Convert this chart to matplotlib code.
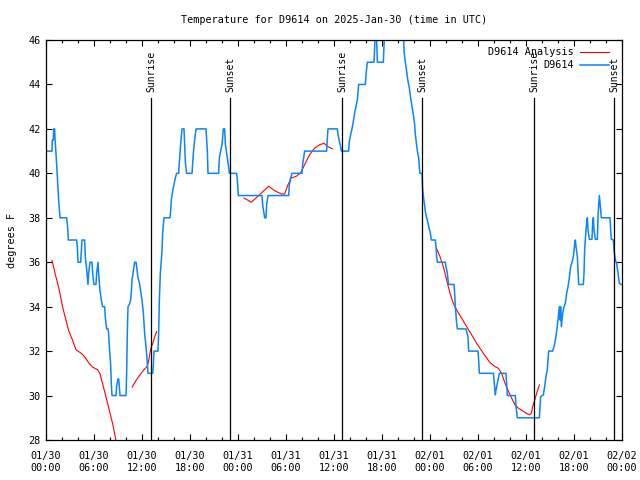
import pandas as pd
import matplotlib
matplotlib.use("Agg")
import matplotlib.pyplot as plt
import matplotlib.dates as mdates

START = pd.Timestamp("2025-01-30 00:00")
END = pd.Timestamp("2025-02-02 00:00")

# station D9614 observations: hours since START, degrees F
obs_hours = [
    0.21, 0.75, 0.79, 0.92, 0.96, 1.08, 1.12, 1.25, 1.38, 1.5, 1.58, 1.75, 2.58, 2.67, 2.75, 2.79,
    3.83, 3.92, 4.0, 4.33, 4.42, 4.5, 4.83, 4.92, 5.08, 5.25, 5.33, 5.5, 5.75, 5.83, 6.0, 6.25,
    6.33, 6.5, 6.58, 6.75, 6.92, 7.08, 7.33, 7.42, 7.58, 7.75, 7.83, 7.92, 8.08, 8.17, 8.25, 8.75,
    8.83, 9.0, 9.08, 9.17, 9.25, 10.0, 10.08, 10.17, 10.25, 10.42, 10.58, 10.67, 10.75, 10.92,
    11.08, 11.25, 11.33, 11.5, 11.67, 11.83, 12.0, 12.17, 12.33, 12.5, 12.62, 12.75, 13.33, 13.42,
    13.5, 14.0, 14.08, 14.17, 14.29, 14.5, 14.58, 14.75, 15.5, 15.58, 15.67, 15.83, 16.0, 16.17,
    16.33, 16.58, 16.67, 16.83, 17.0, 17.25, 17.33, 17.42, 17.58, 18.25, 18.42, 18.58, 18.75,
    20.0, 20.17, 20.25, 21.58, 21.67, 21.83, 22.0, 22.17, 22.33, 22.42, 22.58, 22.75, 22.92,
    23.83, 23.92, 24.05, 27.0, 27.08, 27.33, 27.5, 27.58, 27.75, 30.33, 30.42, 30.58, 30.75,
    32.0, 32.08, 32.25, 32.33, 35.08, 35.17, 35.25, 36.42, 36.5, 36.67, 36.83, 36.92, 37.83,
    37.92, 38.08, 38.25, 38.42, 38.58, 38.75, 38.92, 39.08, 39.92, 40.0, 40.17, 41.0, 41.08,
    41.17, 41.29, 41.42, 42.17, 42.33, 44.67, 44.75, 44.92, 45.08, 45.25, 45.42, 45.58, 45.75,
    45.92, 46.08, 46.17, 46.33, 46.42, 46.58, 46.67, 46.75, 47.0, 47.08, 47.25, 47.42, 47.58,
    47.75, 47.92, 48.0, 48.17, 48.67, 48.75, 48.83, 48.92, 49.92, 50.0, 50.17, 50.25, 50.33,
    51.0, 51.08, 51.17, 51.33, 51.42, 52.5, 52.75, 52.83, 54.0, 54.08, 54.17, 55.92, 56.0,
    56.17, 56.25, 56.42, 56.58, 56.67, 57.5, 57.58, 57.67, 58.67, 58.75, 58.92, 61.67, 61.75,
    61.83, 62.17, 62.33, 62.5, 62.67, 62.83, 63.33, 63.5, 63.67, 63.83, 64.0, 64.08, 64.17,
    64.25, 64.33, 64.42, 64.58, 64.75, 64.92, 65.08, 65.25, 65.42, 65.58, 65.75, 65.92, 66.08,
    66.17, 66.25, 66.42, 66.5, 66.58, 67.17, 67.25, 67.33, 67.5, 67.58, 67.67, 67.75, 67.92,
    68.25, 68.33, 68.42, 68.5, 68.67, 68.92, 69.0, 69.08, 69.17, 69.25, 69.33, 69.42, 70.5,
    70.58, 70.67, 70.92, 71.0, 71.17, 71.33, 71.5, 71.67, 71.9,
]
obs_temp = [
    41.0, 41.0, 41.5, 41.5, 42.0, 42.0, 41.6, 40.9, 40.1, 39.4, 38.8, 38.0, 38.0, 37.7, 37.35, 37.0,
    37.0, 36.7, 36.0, 36.0, 36.5, 37.0, 37.0, 36.2, 35.7, 35.0, 35.5, 36.0, 36.0, 35.5, 35.0, 35.0,
    35.5, 36.0, 35.5, 34.7, 34.3, 34.0, 34.0, 33.5, 33.0, 33.0, 32.8, 32.2, 31.4, 30.5, 30.0, 30.0,
    30.4, 30.75, 30.75, 30.4, 30.0, 30.0, 31.0, 32.9, 34.0, 34.1, 34.3, 34.7, 35.2, 35.6,
    36.0, 36.0, 35.8, 35.3, 35.1, 34.7, 34.3, 33.7, 32.8, 32.2, 31.7, 31.0, 31.0, 31.4,
    32.0, 32.0, 32.8, 34.3, 35.5, 36.5, 37.3, 38.0, 38.0, 38.3, 38.8, 39.2, 39.5, 39.8,
    40.0, 40.0, 40.5, 41.3, 42.0, 42.0, 41.3, 40.5, 40.0, 40.0, 40.9, 41.5, 42.0,
    42.0, 41.0, 40.0, 40.0, 40.7, 41.0, 41.3, 42.0, 42.0, 41.3, 40.9, 40.5, 40.0,
    40.0, 39.7, 39.0, 39.0, 38.6, 38.0, 38.0, 38.6, 39.0, 39.0, 39.5, 39.8, 40.0,
    40.0, 40.4, 40.8, 41.0, 41.0, 41.6, 42.0, 42.0, 41.74, 41.44, 41.2, 41.0, 41.0,
    41.44, 41.74, 42.0, 42.34, 42.72, 43.0, 43.32, 44.0, 44.0, 44.44, 45.0, 45.0, 45.64,
    46.5, 46.5, 45.0, 45.0, 46.5, 46.5, 45.49, 45.0, 44.59, 44.14, 43.84, 43.39, 43.0,
    42.64, 42.19, 41.74, 41.29, 41.0, 40.69, 40.24, 40.0, 40.0, 39.27, 38.74, 38.29, 38.0,
    37.77, 37.47, 37.4, 37.0, 37.0, 36.7, 36.25, 36.0, 36.0, 35.8, 35.5, 35.2, 35.0,
    35.0, 34.6, 34.0, 33.25, 33.0, 33.0, 32.65, 32.0, 32.0, 31.6, 31.0, 31.0, 30.7,
    30.03, 30.25, 30.55, 30.85, 31.0, 31.0, 30.55, 30.0, 30.0, 29.5, 29.0, 29.0, 29.5,
    29.95, 30.03, 30.4, 30.85, 31.2, 32.0, 32.0, 32.2, 32.5, 32.9, 33.4, 33.7, 34.0,
    33.4, 34.0, 33.1, 33.7, 34.0, 34.15, 34.6, 34.9, 35.3, 35.8, 36.0, 36.25, 36.8,
    37.0, 36.7, 36.25, 35.65, 35.0, 35.0, 35.5, 36.55, 37.45, 37.75, 38.0, 37.45, 37.03,
    37.03, 37.75, 38.0, 37.45, 37.03, 37.03, 38.05, 38.57, 39.0, 38.7, 38.35, 38.0, 38.0,
    37.45, 37.03, 37.0, 36.55, 36.1, 35.95, 35.5, 35.05, 35.0,
]

# analysis curve, NaN marks gaps between segments
ana_hours = [
    0.75, 1.25, 1.67, 2.08, 2.5, 2.83, 3.33, 3.75, 4.17, 4.58, 5.0, 5.42, 5.83, 6.46, 6.75, 7.08,
    7.5, 7.92, 8.33, 8.75, 9.0, 9.05,
    10.78, 11.25, 11.75, 12.33, 12.58, 12.75, 12.92, 13.08, 13.33, 13.58, 13.83, 13.9,
    24.75, 25.67, 26.5, 27.83, 28.58, 29.42, 29.83, 30.25, 30.67, 31.29, 31.83, 32.33, 32.96,
    33.58, 34.21, 34.75, 35.25, 35.8, 35.85,
    48.8, 49.25, 49.67, 50.08, 50.5, 50.92, 51.33, 51.96, 52.58, 53.21, 53.83, 54.67, 55.5,
    56.13, 56.54, 56.96, 57.38, 58.0, 58.63, 59.04, 59.88, 60.42, 60.67, 60.83, 61.04, 61.33,
    61.67,
]
ana_temp = [
    36.08, 35.33, 34.73, 33.98, 33.38, 32.93, 32.48, 32.06, 31.96, 31.85, 31.66, 31.43, 31.28,
    31.16, 30.98, 30.53, 29.93, 29.33, 28.73, 27.98, 27.6, float("nan"),
    30.38, 30.68, 30.93, 31.2, 31.28, 31.43, 31.73, 32.1, 32.33, 32.63, 32.88, float("nan"),
    38.89, 38.7, 38.97, 39.42, 39.22, 39.07, 39.07, 39.49, 39.79, 39.87, 40.02, 40.39, 40.84,
    41.14, 41.29, 41.35, 41.2, 41.1, float("nan"),
    36.63, 36.25, 35.8, 35.2, 34.6, 34.15, 33.85, 33.48, 33.1, 32.73, 32.35, 31.9, 31.48,
    31.3, 31.23, 31.0, 30.55, 30.03, 29.58, 29.43, 29.24, 29.13, 29.2, 29.5, 29.73, 30.1,
    30.48,
]

sunrise_hours = [13.15, 37.05, 61.0]
sunset_hours = [23.05, 47.05, 71.05]


def to_time(hours):
    return START + pd.to_timedelta(pd.Series(hours), unit="h")


plt.rcParams['font.family'] = ['DejaVu Sans Mono', 'DejaVu Sans']
plt.rcParams['font.size'] = 7.3

fig = plt.figure(figsize=(6.4, 4.8), dpi=100)
ax = fig.add_axes([46 / 640, 40 / 480, 576 / 640, 400 / 480])

ax.plot(to_time(ana_hours), ana_temp, color='#ff0000', lw=0.8, label='D9614 Analysis')
ax.plot(to_time(obs_hours), obs_temp, color='#0a84ff', lw=1.1, label='D9614')

# sunrise / sunset markers
for name, hours in (('Sunrise', sunrise_hours), ('Sunset', sunset_hours)):
    for t in to_time(hours):
        ax.axvline(t, ymin=0, ymax=0.855, color='black', lw=0.9)
        ax.text(t, 0.87, name, transform=ax.get_xaxis_transform(), rotation=90,
                ha='center', va='bottom', fontsize=7)

ax.set_xlim(START, END)
ax.set_ylim(28, 46)
ax.set_yticks(range(28, 47, 2))
ax.xaxis.set_major_locator(mdates.HourLocator(byhour=range(0, 24, 6)))
ax.xaxis.set_minor_locator(mdates.HourLocator(byhour=range(0, 24, 2)))
ax.xaxis.set_major_formatter(mdates.DateFormatter('%m/%d\n%H:%M'))
ax.tick_params(which='both', direction='in', top=True, right=True, width=0.8)
ax.tick_params(which='major', length=4.5)
ax.tick_params(which='minor', length=2.5)
ax.tick_params(axis='x', which='major', pad=8)
ax.tick_params(axis='y', pad=4)
for sp in ax.spines.values():
    sp.set_linewidth(0.9)

ax.set_ylabel('degrees F', labelpad=8)
ax.set_title('Temperature for D9614 on 2025-Jan-30 (time in UTC)', fontsize=7.3, pad=12)

ax.legend(loc='upper right', bbox_to_anchor=(0.99, 1.0), frameon=False, markerfirst=False,
          handlelength=2.9, borderaxespad=0.3, labelspacing=0.3, handletextpad=0.55)

fig.savefig('out.png', dpi=100)
